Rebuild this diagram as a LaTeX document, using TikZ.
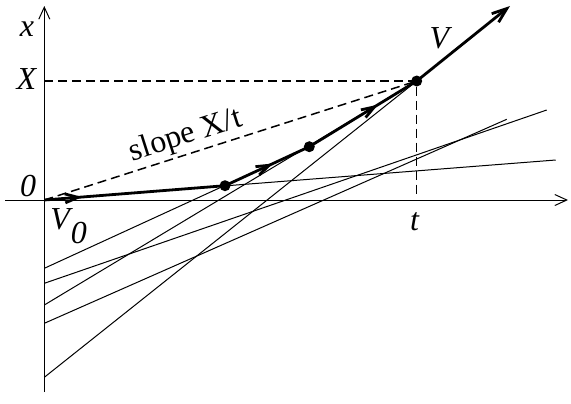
\documentclass[tikz,border=0pt]{standalone}
\usepackage{fontspec}
\setmainfont{Liberation Serif}
\usetikzlibrary{arrows.meta,decorations.markings}

\begin{document}
\begin{tikzpicture}[
		x=0.5pt, y=-0.5pt,
		dot/.style={circle, fill=black, inner sep=0pt, minimum size=5.5pt},
		ray/.style={line width=0.5pt},
		walk/.style={line width=1.4pt},
		guide/.style={line width=0.75pt, dash pattern=on 4.5pt off 2.5pt},
		axis/.style={line width=0.5pt, -{Straight Barb[length=6pt,width=5.5pt]}},
		lbl/.style={font=\fontsize{16}{18}\selectfont},
		mid arrow/.style={postaction={decorate}, decoration={markings,
				mark=at position #1 with {\arrow{Straight Barb[length=6.5pt,width=4.5pt]}}}}
		]
		
		\useasboundingbox (0,0) rectangle (571,403);
		
		% Points of the path
		\coordinate (O)  at (44.3,200);
		\coordinate (P1) at (225,185.7);
		\coordinate (P2) at (309.3,146.7);
		\coordinate (P3) at (416.7,81);
		\coordinate (Vend) at (510,6);
		
		% Ends of the lines
		\coordinate (a1) at (44.3,268.3);
		\coordinate (a2) at (44.3,283.3);
		\coordinate (a3) at (44.3,305);
		\coordinate (a4) at (44.3,323.3);
		\coordinate (a5) at (44.3,377.3);
		\coordinate (b1) at (555.7,160);
		\coordinate (b2) at (546.7,110);
		\coordinate (b3) at (506.7,119.3);
		
		% Draw the axes
		\coordinate (xbot) at (44.3,392);
		\coordinate (xtop) at (44.3,6);
		\coordinate (tleft) at (5,200);
		\coordinate (tright) at (568,200);
		\draw[axis] (xbot) -- (xtop);
		\draw[axis] (tleft) -- (tright);
		
		% Draw the thin lines
		\draw[ray] (O) -- (b1);
		\draw[ray] (a1) -- (P2);
		\draw[ray] (a2) -- (b2);
		\draw[ray] (a3) -- (P3);
		\draw[ray] (a4) -- (b3);
		\draw[ray] (a5) -- (P3);
		
		% Dashed lines
		\coordinate (Xax) at (44.3,81);
		\coordinate (tax) at (416.7,198);
		\draw[guide] (Xax) -- (P3) -- (tax);
		\draw[guide] (O) -- (P3);
		
		% Draw the bold path
		\draw[walk, mid arrow=0.21] (O) -- (P1);
		\draw[walk, mid arrow=0.57] (P1) -- (P2);
		\draw[walk, mid arrow=0.64] (P2) -- (P3);
		\draw[walk, -{Straight Barb[length=7.5pt,width=5.5pt]}] (P3) -- (Vend);
		
		% Draw the dots
		\node[dot] (d1) at (P1) {};
		\node[dot] (d2) at (P2) {};
		\node[dot] (d3) at (P3) {};
		
		% Labels
		\node[lbl] (xlab) at (27,29) {\textit{x}};
		\node[lbl] (Xlab) at (27,79) {\textit{X}};
		\node[lbl] (Olab) at (28,186) {\textit{0}};
		\node[lbl, inner sep=0pt, anchor=base west] (V0lab) at (50,229)
			{\textit{V\kern0.5pt\raisebox{-0.45em}{0}}};
		\node[lbl] (tlab) at (415,222) {\textit{t}};
		\node[lbl] (Vlab) at (441,38) {\textit{V}};
		\node[lbl, rotate=17.7] (slope) at (186,136) {slope X/t};
		
	\end{tikzpicture}
\end{document}
